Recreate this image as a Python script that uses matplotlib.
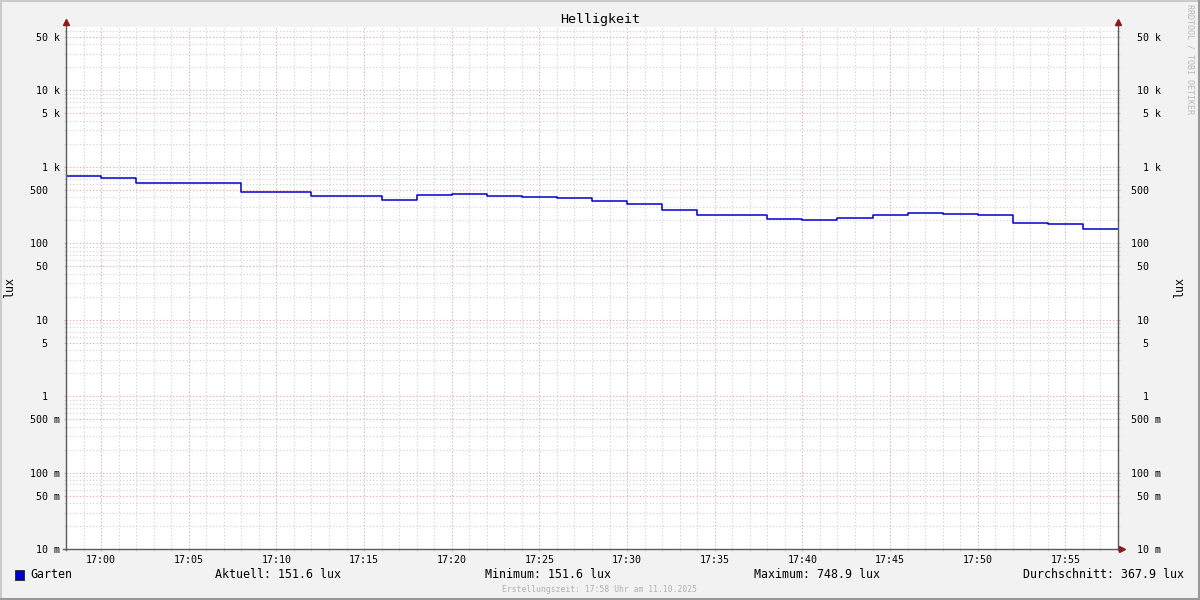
import matplotlib
matplotlib.use("Agg")
import matplotlib.pyplot as plt
import matplotlib.dates as mdates
from matplotlib.ticker import FixedLocator, FixedFormatter, NullFormatter
from matplotlib.lines import Line2D
from matplotlib.patches import Rectangle
import numpy as np

# ---------------- data ----------------
title = "Helligkeit"
unit = "lux"
series_name = "Garten"
start_time = np.datetime64("2025-10-11T16:58")
step_minutes = 2
values = [748.9, 710, 618, 618, 618, 471, 471, 418, 418, 370,
          434, 444, 418, 405, 393, 360, 328, 274, 238, 231,
          209, 203, 216, 231, 251, 243, 231, 185, 181, 151.6]
y_ticks = [0.01, 0.05, 0.1, 0.5, 1, 5, 10, 50, 100, 500, 1000, 5000, 10000, 50000]
y_tick_labels = ["10 m", "50 m", "100 m", "500 m", "1  ", "5  ", "10  ", "50  ",
                 "100  ", "500  ", "1 k", "5 k", "10 k", "50 k"]
stat_names = ["Aktuell", "Minimum", "Maximum", "Durchschnitt"]
stat_values = [151.6, 151.6, 748.9, 367.9]
footer = "Erstellungszeit: 17:58 Uhr am 11.10.2025"
watermark = "RRDTOOL / TOBI OETIKER"

# ---------------- style ----------------
FONT = "DejaVu Sans Mono"
plt.rcParams["font.family"] = [FONT, "DejaVu Sans"]
BACK = "#f2f2f2"
LINE = "#0000cc"
MGRID = "#e3a3a3"
GRID = "#cfcfcf"
AXIS = "#5c5c5c"
ARROW = "#8b1a1a"

W, H = 1200, 600
fig = plt.figure(figsize=(12, 6), dpi=100, facecolor=BACK)

L, R, T, B = 66, 1118, 27, 549
ax = fig.add_axes([L / W, 1 - B / H, (R - L) / W, (B - T) / H])
ax.set_facecolor("white")

times = start_time + np.arange(len(values) + 1) * np.timedelta64(step_minutes, "m")
yvals = values + [values[-1]]
ax.plot(times.astype("datetime64[s]").astype(object), yvals, drawstyle="steps-post",
        color=LINE, lw=1.1, zorder=5)

ax.set_yscale("log")
ax.set_ylim(0.01, 67600)
ax.set_xlim(times[0].astype("datetime64[s]").astype(object),
            (start_time + np.timedelta64(60, "m")).astype("datetime64[s]").astype(object))

# y ticks
minor = [m * 10.0 ** e for e in range(-2, 5) for m in range(2, 10)]
minor = [v for v in minor if v not in y_ticks and v < 67600]
ax.yaxis.set_major_locator(FixedLocator(y_ticks))
ax.yaxis.set_major_formatter(FixedFormatter(y_tick_labels))
ax.yaxis.set_minor_locator(FixedLocator(minor))
ax.yaxis.set_minor_formatter(NullFormatter())

# x ticks
ax.xaxis.set_major_locator(mdates.MinuteLocator(byminute=range(0, 60, 5)))
ax.xaxis.set_minor_locator(mdates.MinuteLocator())
ax.xaxis.set_major_formatter(mdates.DateFormatter("%H:%M"))

ax.grid(True, which="major", color=MGRID, ls=(0, (1, 2)), lw=0.8)
ax.grid(True, which="minor", color=GRID, ls=(0, (1, 2)), lw=0.8)
ax.tick_params(axis="both", which="both", labelsize=7.2, length=1.5, width=0.8)
ax.tick_params(axis="y", which="major", color=MGRID, pad=2.9)
ax.tick_params(axis="y", which="minor", color=GRID)
ax.tick_params(axis="x", which="major", color=MGRID, pad=3)
ax.tick_params(axis="x", which="minor", color=GRID)
for s in ax.spines.values():
    s.set_visible(False)

# right axis labels
ax2 = ax.twinx()
ax2.set_yscale("log")
ax2.set_ylim(ax.get_ylim())
ax2.yaxis.set_major_locator(FixedLocator(y_ticks))
ax2.yaxis.set_major_formatter(FixedFormatter(y_tick_labels))
ax2.yaxis.set_minor_locator(FixedLocator(minor))
ax2.yaxis.set_minor_formatter(NullFormatter())
ax2.tick_params(axis="y", which="both", labelsize=7.2, length=1.5, width=0.8, pad=29.5)
ax2.tick_params(axis="y", which="major", color=MGRID)
ax2.tick_params(axis="y", which="minor", color=GRID)
for s in ax2.spines.values():
    s.set_visible(False)
for t in ax2.yaxis.get_major_ticks():
    t.label2.set_horizontalalignment("right")

# axis lines with arrows (figure pixel coordinates)
def fx(x):
    return x / W

def fy(y):
    return 1 - y / H

fig.add_artist(Line2D([fx(L), fx(L)], [fy(B + 1), fy(22)], color=AXIS, lw=1))
fig.add_artist(Line2D([fx(R), fx(R)], [fy(B + 1), fy(22)], color=AXIS, lw=1))
fig.add_artist(Line2D([fx(L - 3), fx(R + 4)], [fy(B), fy(B)], color=AXIS, lw=1))
fig.add_artist(Line2D([fx(L)], [fy(22)], marker="^", ms=4, color=ARROW, ls="none"))
fig.add_artist(Line2D([fx(R)], [fy(22)], marker="^", ms=4, color=ARROW, ls="none"))
fig.add_artist(Line2D([fx(R + 4)], [fy(B)], marker=">", ms=4, color=ARROW, ls="none"))

# title and labels
fig.text(0.5, fy(19), title, ha="center", va="center", fontsize=9.6, color="black")
fig.text(fx(10), fy(288), unit, rotation=90, ha="center", va="center", fontsize=8.4)
fig.text(fx(1180), fy(288), unit, rotation=90, ha="center", va="center", fontsize=8.4)
fig.text(fx(1190), fy(4), watermark, rotation=-90, ha="center", va="top",
         fontsize=6, color="#b8b8b8")

# legend row
fig.add_artist(Rectangle((fx(15), fy(580)), 9 / W, 10 / H, facecolor=LINE,
                         edgecolor="#222222", lw=0.6))
fig.text(fx(30), fy(575), series_name, ha="left", va="center", fontsize=8.4)
stat_x = [215, 485, 754, 1023]
for name, val, x in zip(stat_names, stat_values, stat_x):
    fig.text(fx(x), fy(575), f"{name}: {val:.1f} {unit}", ha="left", va="center",
             fontsize=8.4)
fig.text(0.5, fy(589), footer, ha="center", va="center", fontsize=5.8, color="#b0b0b0")

# 3D border
fig.add_artist(Line2D([0, 1], [fy(1), fy(1)], color="#cbcbcb", lw=1.5))
fig.add_artist(Line2D([fx(1), fx(1)], [0, 1], color="#cbcbcb", lw=1.5))
fig.add_artist(Line2D([0, 1], [fy(599), fy(599)], color="#999999", lw=1.5))
fig.add_artist(Line2D([fx(1199), fx(1199)], [0, 1], color="#999999", lw=1.5))

fig.savefig("out.png", dpi=100, facecolor=BACK)
